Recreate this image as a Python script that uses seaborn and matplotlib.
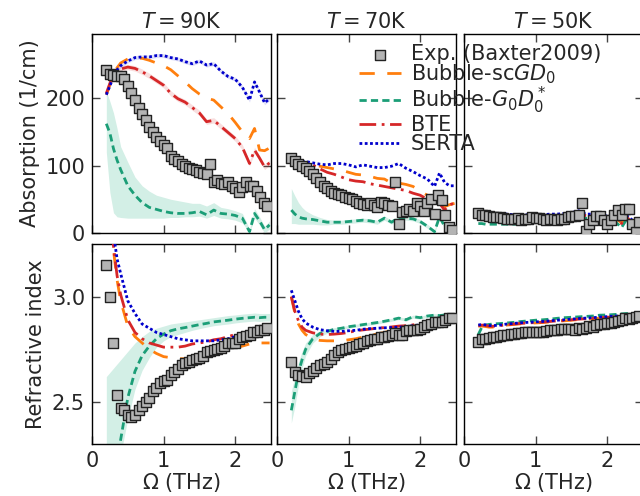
import numpy as np
import pandas as pd
import matplotlib
matplotlib.use("Agg")
import matplotlib.pyplot as plt
import seaborn as sns

sns.set_theme(style="ticks")
plt.rcParams["font.family"] = ["DejaVu Sans"]
plt.rcParams["mathtext.fontset"] = "dejavusans"

# ---------------- data ----------------
temps = ["90", "70", "50"]

# experimental frequencies (THz)
exp_x = [0.20, 0.25, 0.30, 0.35, 0.40, 0.45, 0.50, 0.55, 0.60, 0.65, 0.70, 0.75,
         0.80, 0.85, 0.90, 0.95, 1.00, 1.05, 1.10, 1.15, 1.20, 1.25, 1.30, 1.35,
         1.40, 1.45, 1.50, 1.55, 1.60, 1.65, 1.70, 1.75, 1.80, 1.85, 1.90, 1.95,
         2.00, 2.05, 2.10, 2.15, 2.20, 2.25, 2.30, 2.35, 2.40, 2.45]

exp_abs_90 = [241, 236, 234, 233, 232, 229, 218, 208, 197, 186, 177, 167,
              157, 150, 142, 136, 131, 126, 114, 109, 106, 103, 99, 97,
              95, 93, 90, 89, 88, 102, 76, 78, 74, 73, 75, 70,
              66, 61, 68, 75, 70, 70, 62, 54, 44, 40]
exp_abs_70 = [111, 106, 102, 99, 96, 92, 87, 81, 75, 70, 66, 62,
              60, 58, 56, 54, 52, 50, 47, 45, 43, 42, 44, 41,
              39, 46, 44, 42, 40, 75, 14, 31, 33, 35, 33, 44,
              40, 33, 44, 51, 28, 57, 49, 27, 9, 5]
exp_abs_50 = [29, 27, 26, 25, 23, 23, 23, 22, 21, 21, 21, 22,
              20, 21, 21, 23, 22, 22, 21, 19, 21, 21, 19, 21,
              21, 23, 25, 25, 27, 45, 3, 14, 19, 25, 25, 19,
              14, 20, 26, 34, 27, 36, 36, 14, 2, 16]

exp_n_90 = [3.15, 3.00, 2.78, 2.535, 2.47, 2.46, 2.44, 2.43, 2.44, 2.46, 2.48, 2.50,
            2.52, 2.55, 2.565, 2.59, 2.60, 2.605, 2.63, 2.64, 2.655, 2.675, 2.685, 2.69,
            2.70, 2.705, 2.71, 2.72, 2.735, 2.74, 2.745, 2.75, 2.755, 2.765, 2.78, 2.78,
            2.78, 2.80, 2.81, 2.815, 2.82, 2.83, 2.83, 2.84, 2.84, 2.85]
exp_n_70 = [2.69, 2.64, 2.63, 2.625, 2.62, 2.635, 2.645, 2.66, 2.675, 2.68, 2.69, 2.705,
            2.725, 2.735, 2.745, 2.75, 2.755, 2.76, 2.765, 2.775, 2.78, 2.787, 2.795, 2.80,
            2.80, 2.81, 2.81, 2.815, 2.82, 2.826, 2.82, 2.82, 2.835, 2.84, 2.84, 2.84,
            2.845, 2.855, 2.865, 2.87, 2.88, 2.88, 2.88, 2.89, 2.90, 2.90]
exp_n_50 = [2.784, 2.80, 2.80, 2.805, 2.81, 2.81, 2.815, 2.82, 2.82, 2.822, 2.824, 2.826,
            2.826, 2.83, 2.83, 2.83, 2.832, 2.83, 2.83, 2.835, 2.84, 2.84, 2.842, 2.845,
            2.845, 2.847, 2.845, 2.84, 2.85, 2.848, 2.85, 2.86, 2.855, 2.865, 2.87, 2.868,
            2.875, 2.877, 2.88, 2.885, 2.89, 2.90, 2.895, 2.90, 2.905, 2.91]

# model frequencies (THz)
mod_x = [0.20, 0.25, 0.30, 0.35, 0.40, 0.50, 0.60, 0.70, 0.80, 0.90, 1.00, 1.10,
         1.20, 1.30, 1.40, 1.50, 1.60, 1.70, 1.80, 1.90, 2.00, 2.10, 2.20, 2.27,
         2.34, 2.41, 2.48]

# absorption (1/cm)
sc_abs_90 = [205, 220, 235, 245, 252, 258, 259, 259, 256, 252, 248, 242,
             233, 224, 214, 206, 200, 197, 187, 177, 164, 150, 140, 155, 123, 122, 126]
g0_abs_90 = [162, 148, 125, 108, 94, 70, 56, 45, 38, 35, 32, 30,
             29, 29, 30, 32, 27, 34, 29, 28, 26, 22, 2, 29, 18, 5, 12]
g0_abs_90_lo = [120, 60, 30, 24, 23, 22, 22, 22, 22, 22, 22, 23,
                23, 24, 24, 25, 22, 26, 22, 21, 19, 15, 0, 22, 12, 0, 6]
g0_abs_90_hi = [210, 195, 178, 155, 128, 105, 83, 70, 62, 56, 53, 50,
                48, 46, 44, 44, 40, 45, 38, 36, 33, 29, 6, 36, 24, 10, 18]
bte_abs_90 = [207, 222, 234, 240, 243, 246, 244, 239, 233, 226, 219, 207,
              199, 194, 186, 178, 165, 167, 158, 149, 140, 127, 103, 123, 111, 98, 104]
serta_abs_90 = [205, 218, 232, 242, 248, 255, 260, 261, 261, 263, 263, 260,
                258, 254, 251, 255, 249, 251, 240, 232, 228, 216, 197, 224, 209, 193, 199]

sc_abs_70 = [104, 104, 103, 102, 101, 100, 99, 97, 95, 93, 90, 87,
             86, 84, 81, 80, 74, 74, 72, 69, 62, 56, 54, 60, 39, 42, 44]
g0_abs_70 = [34, 28, 24, 22, 21, 20, 18, 16, 16, 16, 17, 18,
             19, 18, 16, 22, 16, 23, 22, 21, 17, 10, 2, 24, 10, 5, 4]
g0_abs_70_lo = [14, 14, 13, 13, 13, 13, 12, 12, 13, 13, 14, 15,
                16, 15, 13, 19, 13, 20, 19, 18, 14, 7, 0, 21, 7, 2, 1]
g0_abs_70_hi = [66, 55, 45, 38, 33, 27, 23, 20, 19, 19, 20, 21,
                22, 21, 19, 25, 19, 26, 25, 24, 20, 13, 5, 27, 13, 8, 7]
bte_abs_70 = [104, 104, 104, 104, 104, 101, 95, 90, 87, 83, 79, 77,
              76, 73, 71, 69, 67, 65, 63, 59, 56, 50, 54, 44, 34, 42, 44]
serta_abs_70 = [106, 106, 106, 106, 106, 104, 102, 101, 103, 103, 101, 98,
                101, 99, 97, 97, 99, 103, 96, 91, 85, 80, 69, 89, 75, 70, 70]

sc_abs_50 = [26, 26, 26, 26, 26, 26, 25, 25, 25, 25, 25, 25,
             26, 26, 26, 27, 28, 26, 25, 25, 24, 23, 15, 24, 17, 10, 17]
g0_abs_50 = [14, 14, 13, 13, 13, 13, 13, 13, 14, 16, 18, 20,
             21, 22, 22, 23, 25, 22, 21, 21, 20, 18, 8, 20, 12, 5, 12]
bte_abs_50 = [26, 26, 26, 26, 26, 26, 25, 25, 25, 25, 25, 25,
              26, 26, 26, 27, 29, 26, 25, 25, 24, 22, 14, 24, 16, 9, 17]
serta_abs_50 = [27, 27, 28, 28, 28, 29, 28, 27, 27, 27, 27, 27,
                28, 28, 29, 30, 33, 28, 28, 27, 26, 25, 18, 26, 20, 14, 20]

# refractive index
sc_n_90 = [3.60, 3.45, 3.22, 3.08, 2.98, 2.86, 2.81, 2.78, 2.75, 2.73, 2.715, 2.71,
           2.705, 2.705, 2.71, 2.72, 2.73, 2.737, 2.745, 2.75, 2.758, 2.765, 2.775, 2.78,
           2.78, 2.78, 2.78]
g0_n_90 = [1.90, 2.00, 2.10, 2.22, 2.32, 2.52, 2.645, 2.72, 2.765, 2.80, 2.822, 2.838,
           2.847, 2.853, 2.86, 2.867, 2.873, 2.88, 2.884, 2.888, 2.893, 2.897, 2.90, 2.902,
           2.90, 2.902, 2.902]
g0_n_90_lo = [2.30, 2.10, 2.00, 2.10, 2.25, 2.42, 2.56, 2.65, 2.71, 2.76, 2.79, 2.81,
              2.82, 2.83, 2.84, 2.848, 2.855, 2.862, 2.866, 2.87, 2.875, 2.879, 2.882, 2.884,
              2.882, 2.884, 2.884]
g0_n_90_hi = [2.62, 2.64, 2.66, 2.68, 2.70, 2.74, 2.78, 2.81, 2.835, 2.85, 2.86, 2.87,
              2.875, 2.88, 2.885, 2.89, 2.895, 2.90, 2.905, 2.91, 2.913, 2.917, 2.92, 2.922,
              2.92, 2.92, 2.92]
bte_n_90 = [3.60, 3.45, 3.24, 3.10, 3.01, 2.89, 2.83, 2.80, 2.78, 2.77, 2.76, 2.76,
            2.76, 2.765, 2.775, 2.78, 2.785, 2.795, 2.80, 2.81, 2.82, 2.82, 2.83, 2.834,
            2.83, 2.825, 2.825]
serta_n_90 = [3.70, 3.50, 3.30, 3.18, 3.11, 2.98, 2.92, 2.87, 2.85, 2.83, 2.82, 2.81,
              2.80, 2.795, 2.79, 2.79, 2.79, 2.79, 2.795, 2.80, 2.81, 2.82, 2.825, 2.825,
              2.82, 2.82, 2.82]

sc_n_70 = [3.00, 2.92, 2.87, 2.84, 2.82, 2.80, 2.792, 2.79, 2.79, 2.79, 2.795, 2.80,
           2.808, 2.815, 2.823, 2.83, 2.838, 2.845, 2.852, 2.86, 2.866, 2.872, 2.878, 2.878,
           2.875, 2.872, 2.87]
g0_n_70 = [2.46, 2.55, 2.64, 2.70, 2.75, 2.80, 2.825, 2.835, 2.845, 2.85, 2.857, 2.862,
           2.867, 2.872, 2.877, 2.883, 2.89, 2.898, 2.89, 2.905, 2.90, 2.908, 2.912, 2.91,
           2.913, 2.915, 2.915]
g0_n_70_lo = [2.40, 2.48, 2.58, 2.66, 2.72, 2.78, 2.81, 2.826, 2.837, 2.843, 2.85, 2.855,
              2.86, 2.865, 2.87, 2.876, 2.883, 2.891, 2.883, 2.898, 2.893, 2.901, 2.905, 2.903,
              2.906, 2.908, 2.908]
g0_n_70_hi = [2.55, 2.62, 2.69, 2.74, 2.78, 2.82, 2.838, 2.845, 2.853, 2.857, 2.864, 2.869,
              2.874, 2.879, 2.884, 2.89, 2.897, 2.905, 2.897, 2.912, 2.907, 2.915, 2.919, 2.917,
              2.92, 2.922, 2.922]
bte_n_70 = [3.00, 2.93, 2.885, 2.855, 2.84, 2.828, 2.822, 2.82, 2.822, 2.825, 2.83, 2.838,
            2.842, 2.846, 2.85, 2.853, 2.856, 2.86, 2.862, 2.866, 2.87, 2.875, 2.88, 2.883,
            2.886, 2.888, 2.89]
serta_n_70 = [3.03, 2.98, 2.93, 2.895, 2.875, 2.855, 2.843, 2.838, 2.835, 2.835, 2.838, 2.84,
              2.845, 2.848, 2.85, 2.852, 2.853, 2.855, 2.857, 2.862, 2.866, 2.872, 2.88, 2.882,
              2.882, 2.885, 2.885]

sc_n_50 = [2.86, 2.86, 2.858, 2.855, 2.855, 2.86, 2.865, 2.868, 2.871, 2.873, 2.875, 2.877,
           2.88, 2.883, 2.885, 2.888, 2.891, 2.893, 2.895, 2.898, 2.90, 2.902, 2.905, 2.908,
           2.91, 2.91, 2.913]
g0_n_50 = [2.82, 2.855, 2.865, 2.868, 2.87, 2.872, 2.875, 2.878, 2.882, 2.885, 2.888, 2.89,
           2.893, 2.897, 2.90, 2.902, 2.904, 2.906, 2.908, 2.912, 2.913, 2.915, 2.918, 2.92,
           2.92, 2.92, 2.922]
bte_n_50 = [2.862, 2.865, 2.863, 2.86, 2.859, 2.862, 2.867, 2.87, 2.873, 2.875, 2.877, 2.879,
            2.882, 2.885, 2.887, 2.89, 2.893, 2.895, 2.897, 2.90, 2.902, 2.904, 2.907, 2.91,
            2.912, 2.912, 2.915]
serta_n_50 = [2.865, 2.868, 2.866, 2.863, 2.862, 2.865, 2.87, 2.873, 2.876, 2.878, 2.88, 2.882,
              2.885, 2.888, 2.89, 2.893, 2.896, 2.898, 2.90, 2.903, 2.905, 2.907, 2.91, 2.913,
              2.915, 2.915, 2.918]

# uncertainty half-widths of BTE / SERTA absorption at 90 K (1/cm)
bte_err_abs = 4.0
serta_err_abs = 3.0

labels = ["Exp. (Baxter2009)", r"Bubble-sc$GD_0$", r"Bubble-$G_0D_0^*$", "BTE", "SERTA"]

# ---------------- style ----------------
C_EXP_FACE = "#b4b4b4"
C_SC = "#ff7f0e"
C_G0 = "#1b9e77"
C_G0_BAND = "#d3efe6"
C_BTE = "#d62728"
C_SERTA = "#0000cc"
FS = 15
FS_TITLE = 15

fig = plt.figure(figsize=(6.4, 4.96), dpi=100)
W, H = 640.0, 496.0
col_left = [92, 277, 464]
col_w = 179
row_top = [34, 244]
row_h = [199, 200]

axes = [[None] * 3 for _ in range(2)]
for r in range(2):
    for c in range(3):
        axes[r][c] = fig.add_axes([col_left[c] / W, 1 - (row_top[r] + row_h[r]) / H,
                                   col_w / W, row_h[r] / H])

abs_sets = {
    "90": (exp_abs_90, sc_abs_90, g0_abs_90, bte_abs_90, serta_abs_90, (g0_abs_90_lo, g0_abs_90_hi)),
    "70": (exp_abs_70, sc_abs_70, g0_abs_70, bte_abs_70, serta_abs_70, (g0_abs_70_lo, g0_abs_70_hi)),
    "50": (exp_abs_50, sc_abs_50, g0_abs_50, bte_abs_50, serta_abs_50, None),
}
n_sets = {
    "90": (exp_n_90, sc_n_90, g0_n_90, bte_n_90, serta_n_90, (g0_n_90_lo, g0_n_90_hi)),
    "70": (exp_n_70, sc_n_70, g0_n_70, bte_n_70, serta_n_70, (g0_n_70_lo, g0_n_70_hi)),
    "50": (exp_n_50, sc_n_50, g0_n_50, bte_n_50, serta_n_50, None),
}


def draw(ax, data, with_err, with_label):
    ey, sc, g0, bte, serta, band = data
    mx = np.array(mod_x)
    if band is not None:
        ax.fill_between(mx, band[0], band[1], color=C_G0_BAND, lw=0, zorder=1)
    if with_err:
        ax.fill_between(mx, np.array(bte) - bte_err_abs, np.array(bte) + bte_err_abs,
                        color=C_BTE, alpha=0.15, lw=0, zorder=1)
        ax.fill_between(mx, np.array(serta) - serta_err_abs, np.array(serta) + serta_err_abs,
                        color=C_SERTA, alpha=0.12, lw=0, zorder=1)
    lab = (lambda i: labels[i]) if with_label else (lambda i: None)
    sns.lineplot(x=mod_x, y=sc, ax=ax, color=C_SC, lw=2.0, linestyle=(0, (5.5, 4.5)),
                 label=lab(1), zorder=3, estimator=None, sort=False)
    sns.lineplot(x=mod_x, y=g0, ax=ax, color=C_G0, lw=2.0, linestyle=(0, (2.6, 1.5)),
                 label=lab(2), zorder=3, estimator=None, sort=False)
    sns.lineplot(x=mod_x, y=bte, ax=ax, color=C_BTE, lw=2.0, linestyle=(0, (6, 2, 1, 2)),
                 label=lab(3), zorder=3, estimator=None, sort=False)
    sns.lineplot(x=mod_x, y=serta, ax=ax, color=C_SERTA, lw=2.0, linestyle=(0, (1, 0.9)),
                 label=lab(4), zorder=3, estimator=None, sort=False)
    sns.scatterplot(x=exp_x, y=ey, ax=ax, marker="s", s=60, color=C_EXP_FACE,
                    edgecolor="#222222", linewidth=1.0, label=lab(0), zorder=5)


for c, t in enumerate(temps):
    draw(axes[0][c], abs_sets[t], with_err=(t == "90"), with_label=(c == 1))
    draw(axes[1][c], n_sets[t], with_err=False, with_label=False)
    axes[0][c].set_title(r"$T=%s$K" % t, fontsize=FS_TITLE, pad=4)

for r in range(2):
    for c in range(3):
        ax = axes[r][c]
        ax.set_xlim(0, 2.5)
        ax.set_xticks([0, 1, 2])
        if r == 0:
            ax.set_ylim(0, 295)
            ax.set_yticks([0, 100, 200])
        else:
            ax.set_ylim(2.3, 3.25)
            ax.set_yticks([2.5, 3.0])
        ax.tick_params(direction="in", top=True, right=True, length=6, width=1.0,
                       labelsize=FS, color="#444444", pad=5)
        for s in ax.spines.values():
            s.set_linewidth(1.0)
            s.set_color("black")
        ax.set_xlabel(r"$\Omega$ (THz)" if r == 1 else "", fontsize=FS, labelpad=0)
        ax.set_ylabel("")
        if c > 0:
            ax.tick_params(labelleft=False)
        if r == 0:
            ax.tick_params(labelbottom=False)
        leg = ax.get_legend()
        if leg is not None:
            leg.remove()

axes[0][0].set_ylabel("Absorption (1/cm)", fontsize=FS, labelpad=4)
axes[1][0].set_ylabel("Refractive index", fontsize=FS, labelpad=4)

h, l = axes[0][1].get_legend_handles_labels()
order = [l.index(x) for x in labels]
fig.legend([h[i] for i in order], [l[i] for i in order], loc="upper left",
           bbox_to_anchor=(359 / W, 1 - 44 / H), frameon=False, fontsize=FS,
           handlelength=2.0, handletextpad=0.5, labelspacing=-0.06, borderpad=0,
           borderaxespad=0)

fig.savefig("out.png", dpi=100)
